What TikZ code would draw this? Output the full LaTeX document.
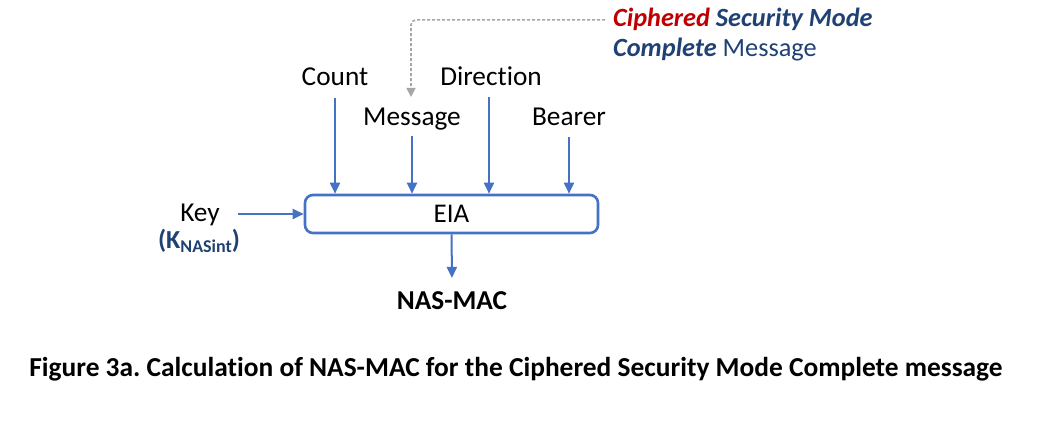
\documentclass[tikz,border=0pt]{standalone}
\usepackage{fontspec}
\setmainfont[Ligatures={NoCommon}]{Carlito}
\usetikzlibrary{arrows.meta}
\definecolor{lineblue}{HTML}{4472C4}
\definecolor{darkblue}{HTML}{1F4174}
\definecolor{cred}{HTML}{C00000}
\definecolor{dashgray}{HTML}{A6A6A6}
\frenchspacing
\begin{document}
\begin{tikzpicture}[x=1pt,y=1pt,
  lbl/.style={font=\fontsize{27.3}{30}\selectfont, inner sep=0pt, anchor=base},
  arr/.style={draw=lineblue, line width=2pt, -{Triangle[length=11pt,width=10pt]}},
  box/.style={draw=lineblue, line width=2.6pt, rounded corners=8pt, minimum width=293pt, minimum height=38pt, inner sep=0pt, font=\fontsize{27}{30}\selectfont},
  dasharr/.style={draw=dashgray, line width=1.6pt, dash pattern=on 3pt off 2pt, rounded corners=5pt, -{Triangle[length=9pt,width=9pt]}}]
\useasboundingbox (0,0) rectangle (1038,438);
\fill[white] (0,0) rectangle (1038,438);
% box
\node[box] (eia) at (451.5,224) {EIA};
% labels
\node[lbl] (count) at (335,352) {Count};
\node[lbl] (dir) at (491,352) {Direction};
\node[lbl] (msg) at (412,312) {Message};
\node[lbl] (bearer) at (569,312) {Bearer};
\node[lbl] (key) at (200,216) {Key};
\node[lbl, text=darkblue, font=\fontsize{26}{30}\selectfont\bfseries] (kn) at (199,189) {(K\raisebox{-4pt}{\fontsize{18}{18}\selectfont NASint})};
\node[lbl, font=\fontsize{27.3}{30}\selectfont\bfseries] (mac) at (452,128) {NAS-MAC};
% message source
\node[lbl, anchor=base west, font=\fontsize{26.3}{30}\selectfont\bfseries\itshape] (l1) at (613,411) {\textcolor{cred}{Ciphered} \textcolor{darkblue}{Security Mode}};
\node[lbl, anchor=base west, text=darkblue, font=\fontsize{26.3}{30}\selectfont] (l2) at (613,381) {\textbf{\textit{Complete}} Message};
% caption
\node[lbl, font=\fontsize{27.4}{30}\selectfont\bfseries] (cap) at (516,61) {Figure 3a. Calculation of NAS-MAC for the Ciphered Security Mode Complete message};
% connectors
\draw[arr] ([yshift=-12pt]count.base) -- (count.base |- eia.north);
\draw[arr] ([yshift=-10pt]msg.base) -- (msg.base |- eia.north);
\draw[arr] ([xshift=-2pt,yshift=-11pt]dir.base) -- ([xshift=-2pt]dir.base |- eia.north);
\draw[arr] ([yshift=-11pt]bearer.base) -- (bearer.base |- eia.north);
\draw[arr] ([xshift=18pt]key.east |- eia.west) -- (eia.west);
\draw[arr] (eia.south) -- ([yshift=14pt]mac.north);
\coordinate (dtip) at (411,341);
\draw[dasharr] ([xshift=-8pt]l1.west) -| (dtip);
\end{tikzpicture}
\end{document}
